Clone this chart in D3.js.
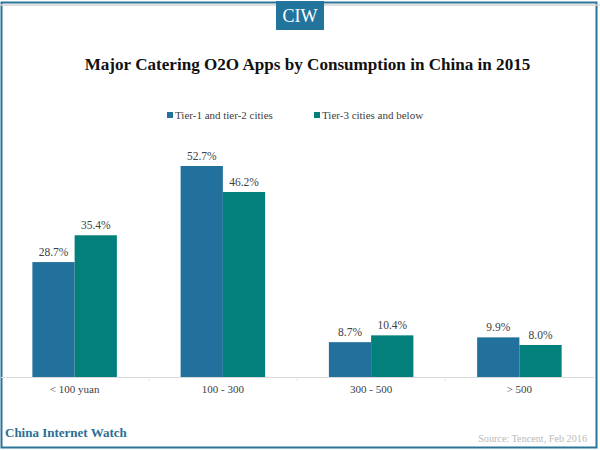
<!DOCTYPE html>
<html>
<head>
<meta charset="utf-8">
<script src="https://cdn.jsdelivr.net/npm/d3@7"></script>
<style>
  html, body { margin: 0; padding: 0; background: #fff; }
  text { font-family: "Liberation Serif", serif; }
</style>
</head>
<body>
<svg id="chart"></svg>
<script>
const width = 600;
const height = 450;

const categories = ['< 100 yuan', '100 - 300', '300 - 500', '> 500'];
const seriesNames = ['Tier-1 and tier-2 cities', 'Tier-3 cities and below'];
const tier12 = [28.7, 52.7, 8.7, 9.9];
const tier3 = [35.4, 46.2, 10.4, 8.0];
const seriesColors = ['#22709c', '#037f7c'];

const svg = d3.select('#chart')
              .attr('width', width)
              .attr('height', height)
              .style('display', 'block');

// frame
svg.append('rect')
   .attr('x', 1.5).attr('y', 2.5)
   .attr('width', 595).attr('height', 445)
   .attr('fill', 'none')
   .attr('stroke', '#2b7397')
   .attr('stroke-width', 2);
svg.append('line')
   .attr('x1', 0).attr('x2', 600)
   .attr('y1', 5).attr('y2', 5)
   .attr('stroke', '#d5d5d5')
   .attr('stroke-width', 1.5);

// logo
svg.append('rect')
   .attr('x', 276).attr('y', 1)
   .attr('width', 48).attr('height', 29)
   .attr('fill', '#22749d');
svg.append('text')
   .attr('x', 300).attr('y', 22)
   .attr('text-anchor', 'middle')
   .attr('font-size', 18)
   .attr('fill', '#fff')
   .text('CIW');

// title
svg.append('text')
   .attr('x', 307.5).attr('y', 70)
   .attr('text-anchor', 'middle')
   .attr('font-size', 17.1)
   .attr('font-weight', 'bold')
   .attr('fill', '#111')
   .text('Major Catering O2O Apps by Consumption in China in 2015');

const xScale = d3.scaleBand()
                 .domain(categories)
                 .range([0.5, 593.5])
                 .paddingInner(0.43)
                 .paddingOuter(0.215);

const xInner = d3.scaleBand()
                 .domain(d3.range(seriesNames.length))
                 .range([0, xScale.bandwidth()]);

const yScale = d3.scaleLinear()
                 .domain([0, 52.7])
                 .range([377, 166]);

// bars
[tier12, tier3].forEach((values, s) => {
  const g = svg.append('g');
  g.selectAll('rect')
   .data(values)
   .enter()
   .append('rect')
   .attr('x', (d, i) => xScale(categories[i]) + xInner(s))
   .attr('y', d => yScale(d))
   .attr('width', xInner.bandwidth())
   .attr('height', d => yScale(0) - yScale(d))
   .attr('fill', seriesColors[s]);
  g.selectAll('text')
   .data(values)
   .enter()
   .append('text')
   .attr('x', (d, i) => xScale(categories[i]) + xInner(s) + xInner.bandwidth() / 2)
   .attr('y', d => yScale(d) - 6)
   .attr('text-anchor', 'middle')
   .attr('font-size', 11.5)
   .attr('fill', '#404040')
   .text(d => d.toFixed(1) + '%');
});

// x axis
const xAxis = d3.axisBottom(xScale).tickSize(0).tickPadding(8);
const axisG = svg.append('g')
   .attr('transform', 'translate(0, 377)')
   .call(xAxis);
axisG.select('.domain').attr('stroke', '#d9d9d9');
axisG.selectAll('text')
     .attr('font-size', 11)
     .style('font-family', '"Liberation Serif", serif')
     .attr('fill', '#404040');
// ticks sit between the groups
axisG.selectAll('.sep')
     .data(categories.slice(1))
     .enter()
     .append('line')
     .attr('class', 'sep')
     .attr('x1', d => xScale(d) - xScale.step() * xScale.paddingInner() / 2)
     .attr('x2', d => xScale(d) - xScale.step() * xScale.paddingInner() / 2)
     .attr('y1', 0).attr('y2', 4)
     .attr('stroke', '#e6e6e6');

// legend
const legendX = [167, 314];
const legend = svg.selectAll('.legend-item')
   .data(seriesNames)
   .enter()
   .append('g')
   .attr('class', 'legend-item')
   .attr('transform', (d, i) => `translate(${legendX[i]}, 112)`);
legend.append('rect')
      .attr('width', 6).attr('height', 6)
      .attr('fill', (d, i) => seriesColors[i]);
legend.append('text')
      .attr('x', 8).attr('y', 7)
      .attr('font-size', 11)
      .attr('fill', '#404040')
      .text(d => d);

// footer
svg.append('text')
   .attr('x', 5).attr('y', 437)
   .attr('font-size', 13)
   .attr('font-weight', 'bold')
   .attr('fill', '#2b6f96')
   .text('China Internet Watch');
svg.append('text')
   .attr('x', 587).attr('y', 441.5)
   .attr('text-anchor', 'end')
   .attr('font-size', 10.2)
   .attr('fill', '#bbbbbb')
   .text('Source: Tencent, Feb 2016');
</script>
</body>
</html>
